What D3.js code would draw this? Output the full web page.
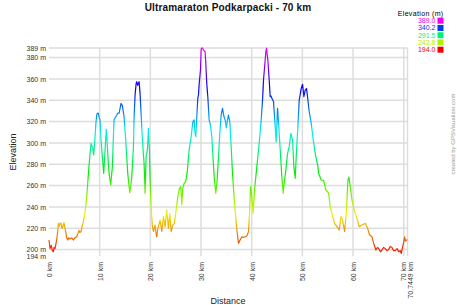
<!DOCTYPE html>
<html>
<head>
<meta charset="utf-8">
<script src="https://cdnjs.cloudflare.com/ajax/libs/d3/7.8.5/d3.min.js"></script>
<style>
  body { margin: 0; background: #fff; }
  svg { display: block; font-family: "Liberation Sans", Arial, sans-serif; }
</style>
</head>
<body>
<svg id="chart" width="457" height="305"></svg>
<script>
// profile
const distKm = [0, 0.2, 0.45, 0.65, 0.86, 1.0, 1.18, 1.35, 1.51, 1.7, 1.84, 2.05, 2.2, 2.37, 2.5, 2.63, 2.8, 2.96, 3.1, 3.29,
  3.5, 3.69, 3.9, 4.15, 4.5, 4.81, 5.1, 5.46, 5.7, 5.93, 6.1, 6.32, 6.55, 6.78, 7.0, 7.24, 7.45, 7.64, 7.85, 8.1,
  8.3, 8.45, 8.62, 8.82, 9.09, 9.25, 9.41, 9.55, 9.74, 9.9, 10.07, 10.27, 10.53, 10.8, 11.06, 11.2, 11.32, 11.59, 11.85, 12.18,
  12.51, 12.7, 12.84, 13.1, 13.36, 13.6, 13.83, 14.05, 14.22, 14.48, 14.81, 15.14, 15.54, 15.75, 15.93, 16.1, 16.33, 16.66, 16.8, 16.99,
  17.2, 17.32, 17.5, 17.64, 17.78, 17.97, 18.17, 18.43, 18.76, 18.96, 19.16, 19.42, 19.62, 19.82, 19.95, 20.15, 20.41, 20.61, 20.94, 21.1,
  21.27, 21.45, 21.59, 21.92, 22.25, 22.58, 22.91, 23.24, 23.57, 23.83, 24.1, 24.43, 24.75, 25.08, 25.41, 25.74, 26.01, 26.2, 26.4, 26.66,
  26.99, 27.32, 27.65, 28.05, 28.38, 28.64, 28.8, 28.97, 29.17, 29.36, 29.5, 29.63, 29.89, 30.02, 30.1, 30.3, 30.48, 30.81, 30.94, 31.14,
  31.34, 31.6, 31.86, 32.13, 32.39, 32.65, 32.92, 33.18, 33.45, 33.71, 33.97, 34.24, 34.5, 34.76, 35.0, 35.22, 35.42, 35.68, 35.95, 36.21,
  36.47, 36.74, 37.07, 37.4, 37.72, 38.05, 38.51, 39.04, 39.37, 39.57, 39.77, 40.03, 40.29, 40.56, 40.88, 41.21, 41.54, 41.87, 42.14, 42.33,
  42.66, 42.8, 42.93, 43.05, 43.19, 43.45, 43.65, 43.8, 43.98, 44.31, 44.64, 44.83, 45.1, 45.36, 45.63, 45.95, 46.22, 46.48, 46.74, 47.07,
  47.4, 47.73, 48.06, 48.32, 48.59, 48.85, 49.11, 49.38, 49.77, 50.04, 50.3, 50.56, 50.82, 51.09, 51.35, 51.75, 52.14, 52.54, 53.07, 53.2,
  53.72, 54.18, 54.64, 55.17, 55.5, 55.83, 56.36, 56.82, 57.28, 57.61, 57.94, 58.33, 58.66, 58.99, 59.19, 59.45, 59.78, 60.24, 60.77, 61.23,
  61.76, 62.41, 62.87, 63.27, 63.73, 64.06, 64.52, 64.8, 65.05, 65.4, 65.71, 66.0, 66.36, 66.7, 67.02, 67.35, 67.68, 68.0, 68.34, 68.7,
  69.0, 69.3, 69.52, 69.79, 70.0, 70.18, 70.35, 70.51, 70.7449];
const elevM = [209, 201, 204, 199, 198, 202, 201, 205, 209, 216, 224.6, 222, 225, 224.6, 221, 220, 223, 225, 221, 217,
  211, 209, 211, 210, 211, 209, 211, 212, 215, 218, 216, 217, 222, 226, 232, 240, 250, 262, 276, 290,
  299.6, 297, 296, 288.7, 305.8, 318, 326, 328, 327.8, 324, 321.5, 302.7, 287, 271.5, 293, 305, 312.8, 290, 271.5, 260.6,
  277.8, 305, 321.5, 324, 326, 328, 327.8, 333, 337, 335, 324.6, 302.7, 271.5, 262, 253.4, 258, 268, 296.5, 325, 345,
  356, 357.4, 354, 356, 357.4, 346.5, 327.8, 302.7, 280.9, 252.8, 287, 293.4, 313.7, 293.4, 265.2, 240, 221.5, 217, 223, 216,
  212, 219, 221.5, 227.7, 217, 231, 221.5, 237, 220, 234, 217, 223, 224.6, 237, 249.6, 257.5, 259, 241.8, 257.5, 262,
  263.7, 274.6, 293.4, 305.8, 320, 321.5, 310, 305.8, 324.6, 341.8, 345, 355, 368.4, 387, 389, 389, 387, 385.4, 374.6, 355,
  343.3, 321.5, 316.8, 305.8, 284, 265, 252.8, 265, 287, 309, 326, 332.5, 325, 321.5, 314, 321.5, 326, 320, 296.5, 271.5,
  252.8, 237, 218.4, 206, 209, 212, 211.5, 212.7, 217, 234, 259, 249.6, 234, 256, 271.5, 287, 302.7, 321.5, 340.2, 359,
  377.8, 386, 389, 383, 377.8, 359, 343.3, 344, 341.8, 338.7, 315, 301, 332.5, 315, 293.4, 268, 252.8, 265, 274.6, 290,
  296.5, 309, 302.7, 277.8, 266.8, 293.4, 315, 340.2, 351, 355, 343.3, 349.6, 351, 340.2, 329.3, 318.4, 302.7, 290, 277.8, 271.5,
  265.2, 265, 256, 253, 240, 234, 224.6, 221.5, 218.4, 231, 227.7, 217, 234, 265, 268, 259, 246.5, 237, 229.3, 221.5,
  223, 224.6, 220, 213.7, 212, 206, 199.6, 202, 201, 198, 199.6, 202, 201, 199, 200, 203, 202, 199, 199, 201,
  198, 199, 196.5, 202.7, 207, 212, 208, 209, 209];

const xTicks = [0, 10, 20, 30, 40, 50, 60, 70, 70.7449];
const xTickLabels = ['0 km', '10 km', '20 km', '30 km', '40 km', '50 km', '60 km', '70 km', '70.7449 km'];
const yTicks = [194, 200, 220, 240, 260, 280, 300, 320, 340, 360, 380, 389];
const yTickLabels = ['194 m', '200 m', '220 m', '240 m', '260 m', '280 m', '300 m', '320 m', '340 m', '360 m', '380 m', '389 m'];
const legendValues = [389.0, 340.2, 291.5, 242.8, 194.0];
const legendLabels = ['389.0', '340.2', '291.5', '242.8', '194.0'];

const plotLeft = 49, plotRight = 407.5, plotTop = 48, plotBottom = 256;

const x = d3.scaleLinear().domain([0, 70.7449]).range([plotLeft, plotRight]);
const y = d3.scaleLinear().domain([194, 389]).range([plotBottom, plotTop]);
const hue = d3.scaleLinear().domain([194, 389]).range([0, 300]);
const colorOf = v => d3.hsl(hue(v), 1, 0.47).formatHex();

const svg = d3.select('#chart');

/* gradient for the line, red at the bottom to magenta at the top */
const grad = svg.append('defs').append('linearGradient')
  .attr('id', 'elevGrad')
  .attr('gradientUnits', 'userSpaceOnUse')
  .attr('x1', 0).attr('x2', 0)
  .attr('y1', y(194)).attr('y2', y(389));
d3.range(0, 1.0001, 1 / 20).forEach(t => {
  const v = 194 + t * (389 - 194);
  grad.append('stop').attr('offset', t).attr('stop-color', colorOf(v));
});

/* grid */
svg.append('g').selectAll('line')
  .data(yTicks.filter(d => d !== 194)).enter()
  .append('line')
  .attr('x1', plotLeft).attr('x2', plotRight)
  .attr('y1', d => y(d)).attr('y2', d => y(d))
  .attr('stroke', '#dddddd').attr('stroke-width', 1.5);
svg.append('g').selectAll('line')
  .data(xTicks.filter(d => d !== 0)).enter()
  .append('line')
  .attr('x1', d => x(d)).attr('x2', d => x(d))
  .attr('y1', plotTop).attr('y2', plotBottom)
  .attr('stroke', '#dddddd').attr('stroke-width', 1.5);

/* axes */
const yAxis = d3.axisLeft(y).tickValues(yTicks).tickFormat((d, i) => yTickLabels[i]).tickSize(0).tickPadding(3);
const gy = svg.append('g').attr('transform', `translate(${plotLeft},0)`).call(yAxis);
gy.select('.domain').remove();
gy.selectAll('text').attr('font-size', 7).attr('fill', '#333').attr('font-family', 'Liberation Sans, Arial, sans-serif');

const xAxis = d3.axisBottom(x).tickValues(xTicks).tickFormat((d, i) => xTickLabels[i]).tickSize(0);
const gx = svg.append('g').attr('transform', `translate(0,${plotBottom})`).call(xAxis);
gx.select('.domain').remove();
gx.selectAll('text')
  .attr('font-size', 7).attr('fill', '#333').attr('font-family', 'Liberation Sans, Arial, sans-serif')
  .attr('transform', 'rotate(-90)')
  .attr('text-anchor', 'end')
  .attr('x', -6)
  .attr('y', (d, i) => i === xTicks.length - 1 ? 3 : (i === xTicks.length - 2 ? -0.5 : 0))
  .attr('dy', '0.35em');

/* profile */
const pts = distKm.map((d, i) => [d, elevM[i]]);
svg.append('path')
  .datum(pts)
  .attr('fill', 'none')
  .attr('stroke', 'url(#elevGrad)')
  .attr('stroke-width', 1.2)
  .attr('stroke-linejoin', 'round')
  .attr('d', d3.line().x(d => x(d[0])).y(d => y(d[1])));

/* titles */
svg.append('text').text('Ultramaraton Podkarpacki - 70 km')
  .attr('x', 228).attr('y', 10.5).attr('text-anchor', 'middle')
  .attr('font-size', 10).attr('font-weight', 'bold').attr('letter-spacing', 0.15).attr('fill', '#111');
svg.append('text').text('Distance')
  .attr('x', 228).attr('y', 304).attr('text-anchor', 'middle')
  .attr('font-size', 9).attr('fill', '#222');
svg.append('text').text('Elevation')
  .attr('transform', 'translate(16,152) rotate(-90)').attr('text-anchor', 'middle')
  .attr('font-size', 9).attr('fill', '#222');
svg.append('text').text('created by GPSVisualizer.com')
  .attr('transform', 'translate(455,134) rotate(-90)').attr('text-anchor', 'middle')
  .attr('font-size', 6).attr('fill', '#999');

/* legend */
const legend = svg.append('g');
legend.append('text').text('Elevation (m)')
  .attr('x', 443.5).attr('y', 15.5).attr('text-anchor', 'end')
  .attr('font-size', 7).attr('letter-spacing', 0.35).attr('fill', '#000');
const rows = legend.selectAll('g.row').data(legendValues).enter()
  .append('g').attr('class', 'row')
  .attr('transform', (d, i) => `translate(0,${20.7 + i * 7.25})`);
rows.append('text').text((d, i) => legendLabels[i])
  .attr('x', 435.5).attr('y', 0).attr('dy', '0.35em').attr('text-anchor', 'end')
  .attr('font-size', 7).attr('fill', d => colorOf(d));
rows.append('rect')
  .attr('x', 437.5).attr('y', -3).attr('width', 6).attr('height', 6)
  .attr('fill', d => colorOf(d));
</script>
</body>
</html>
